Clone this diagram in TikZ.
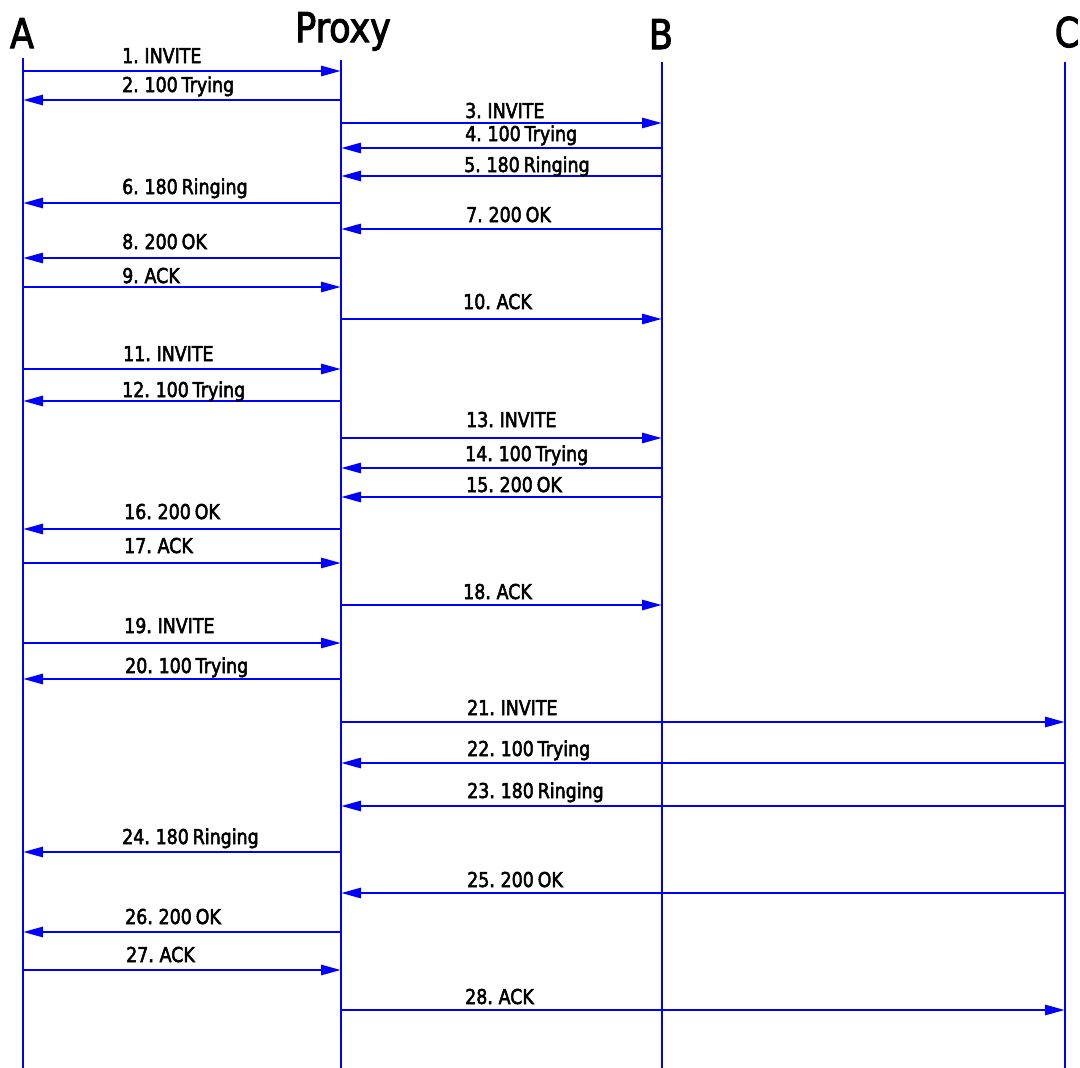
\documentclass[tikz,border=0pt]{standalone}
\usepackage{fontspec}
\usepackage{tikz}
\usetikzlibrary{positioning, arrows.meta, calc}
\newfontfamily\sipfont{DejaVu Sans}[FakeStretch=0.85, FakeBold=2.5, WordSpace=0.7]

\begin{document}
\begin{tikzpicture}[x=1pt, y=-1pt,
    life/.style={blue, line width=2.8pt},
    msg/.style={blue, line width=2.8pt, -{Triangle[length=20pt, width=10pt]}},
    party/.style={anchor=base, inner sep=0pt, font=\sipfont\fontsize{41}{48}\selectfont},
    lbl/.style={anchor=base west, inner sep=0pt, font=\sipfont\fontsize{20.5}{24}\selectfont}]
    \useasboundingbox (0,0) rectangle (1080,1068);
    % Parties
    \node[party] (A) at (22,48) {A};
    \node[party] (P) at (343,42) {Proxy};
    \node[party] (B) at (661,49) {B};
    \node[party] (C) at (1067,47) {C};
    % Lifelines
    \coordinate (Atop) at (23,58);
    \coordinate (Ptop) at (341,60);
    \coordinate (Btop) at (662,62);
    \coordinate (Ctop) at (1065,62);
    \draw[life] (Atop) -- (Atop |- 0,1068);
    \draw[life] (Ptop) -- (Ptop |- 0,1068);
    \draw[life] (Btop) -- (Btop |- 0,1068);
    \draw[life] (Ctop) -- (Ctop |- 0,1068);
    % First call: A to B
    \draw[msg] (Atop |- 0,71) -- (Ptop |- 0,71);
    \node[lbl] (m1) at (122,63) {1. INVITE};
    \draw[msg] (Ptop |- 0,100) -- (Atop |- 0,100);
    \node[lbl] (m2) at (122,92) {2. 100 Trying};
    \draw[msg] (Ptop |- 0,123) -- (Btop |- 0,123);
    \node[lbl] (m3) at (465,118) {3. INVITE};
    \draw[msg] (Btop |- 0,148) -- (Ptop |- 0,148);
    \node[lbl] (m4) at (465,141) {4. 100 Trying};
    \draw[msg] (Btop |- 0,176) -- (Ptop |- 0,176);
    \node[lbl] (m5) at (464,172) {5. 180 Ringing};
    \draw[msg] (Ptop |- 0,203) -- (Atop |- 0,203);
    \node[lbl] (m6) at (122,194) {6. 180 Ringing};
    \draw[msg] (Btop |- 0,229) -- (Ptop |- 0,229);
    \node[lbl] (m7) at (466,222) {7. 200 OK};
    \draw[msg] (Ptop |- 0,258) -- (Atop |- 0,258);
    \node[lbl] (m8) at (122,249) {8. 200 OK};
    \draw[msg] (Atop |- 0,287) -- (Ptop |- 0,287);
    \node[lbl] (m9) at (122,283) {9. ACK};
    \draw[msg] (Ptop |- 0,319) -- (Btop |- 0,319);
    \node[lbl] (m10) at (463,309) {10. ACK};
    % Second call: A to B again
    \draw[msg] (Atop |- 0,369) -- (Ptop |- 0,369);
    \node[lbl] (m11) at (123,361) {11. INVITE};
    \draw[msg] (Ptop |- 0,401) -- (Atop |- 0,401);
    \node[lbl] (m12) at (122,397) {12. 100 Trying};
    \draw[msg] (Ptop |- 0,438) -- (Btop |- 0,438);
    \node[lbl] (m13) at (466,427) {13. INVITE};
    \draw[msg] (Btop |- 0,468) -- (Ptop |- 0,468);
    \node[lbl] (m14) at (465,461) {14. 100 Trying};
    \draw[msg] (Btop |- 0,497) -- (Ptop |- 0,497);
    \node[lbl] (m15) at (466,492) {15. 200 OK};
    \draw[msg] (Ptop |- 0,529) -- (Atop |- 0,529);
    \node[lbl] (m16) at (124,519) {16. 200 OK};
    \draw[msg] (Atop |- 0,563) -- (Ptop |- 0,563);
    \node[lbl] (m17) at (124,553) {17. ACK};
    \draw[msg] (Ptop |- 0,605) -- (Btop |- 0,605);
    \node[lbl] (m18) at (463,599) {18. ACK};
    % Third call: A to C
    \draw[msg] (Atop |- 0,643) -- (Ptop |- 0,643);
    \node[lbl] (m19) at (124,633) {19. INVITE};
    \draw[msg] (Ptop |- 0,679) -- (Atop |- 0,679);
    \node[lbl] (m20) at (125,673) {20. 100 Trying};
    \draw[msg] (Ptop |- 0,722) -- (Ctop |- 0,722);
    \node[lbl] (m21) at (467,715) {21. INVITE};
    \draw[msg] (Ctop |- 0,763) -- (Ptop |- 0,763);
    \node[lbl] (m22) at (467,756) {22. 100 Trying};
    \draw[msg] (Ctop |- 0,806) -- (Ptop |- 0,806);
    \node[lbl] (m23) at (467,798) {23. 180 Ringing};
    \draw[msg] (Ptop |- 0,852) -- (Atop |- 0,852);
    \node[lbl] (m24) at (122,844) {24. 180 Ringing};
    \draw[msg] (Ctop |- 0,893) -- (Ptop |- 0,893);
    \node[lbl] (m25) at (467,887) {25. 200 OK};
    \draw[msg] (Ptop |- 0,932) -- (Atop |- 0,932);
    \node[lbl] (m26) at (125,924) {26. 200 OK};
    \draw[msg] (Atop |- 0,970) -- (Ptop |- 0,970);
    \node[lbl] (m27) at (126,962) {27. ACK};
    \draw[msg] (Ptop |- 0,1010) -- (Ctop |- 0,1010);
    \node[lbl] (m28) at (465,1004) {28. ACK};
\end{tikzpicture}
\end{document}
